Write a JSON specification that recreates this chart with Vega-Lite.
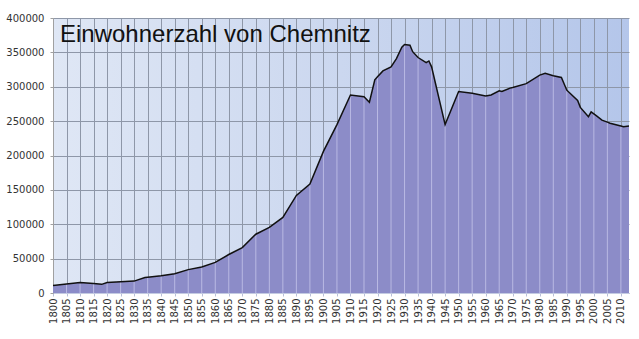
{
  "$schema": "https://vega.github.io/schema/vega-lite/v6.json",
  "width": 576,
  "height": 275,
  "autosize": "none",
  "padding": {"left": 53, "top": 18, "right": 10, "bottom": 46},
  "background": "white",
  "view": {
    "stroke": null,
    "fill": {"gradient": "linear", "x1": 0, "y1": 0, "x2": 1, "y2": 0,
      "stops": [{"offset": 0, "color": "#dfe7f5"}, {"offset": 0.5, "color": "#cbd7ef"}, {"offset": 1, "color": "#b4c6ea"}]}
  },
  "title": {
    "text": "Einwohnerzahl von Chemnitz",
    "anchor": "start", "frame": "group", "orient": "top",
    "baseline": "top", "offset": -34, "dx": 7,
    "font": "Liberation Sans", "fontSize": 24, "fontWeight": "normal", "color": "#111111"
  },
  "data": {"values": [
    {"year": 1800, "pop": 11000},
    {"year": 1805, "pop": 13000},
    {"year": 1810, "pop": 15300},
    {"year": 1815, "pop": 13800},
    {"year": 1818, "pop": 12600},
    {"year": 1820, "pop": 15300},
    {"year": 1825, "pop": 16200},
    {"year": 1830, "pop": 17300},
    {"year": 1834, "pop": 22500},
    {"year": 1835, "pop": 23000},
    {"year": 1840, "pop": 25000},
    {"year": 1845, "pop": 28000},
    {"year": 1850, "pop": 34000},
    {"year": 1855, "pop": 37800},
    {"year": 1860, "pop": 44500},
    {"year": 1865, "pop": 56000},
    {"year": 1870, "pop": 66000},
    {"year": 1875, "pop": 85500},
    {"year": 1880, "pop": 95500},
    {"year": 1885, "pop": 110000},
    {"year": 1890, "pop": 142000},
    {"year": 1895, "pop": 158500},
    {"year": 1900, "pop": 206000},
    {"year": 1905, "pop": 245000},
    {"year": 1910, "pop": 288000},
    {"year": 1915, "pop": 285500},
    {"year": 1917, "pop": 277500},
    {"year": 1919, "pop": 310000},
    {"year": 1920, "pop": 314500},
    {"year": 1922, "pop": 323000},
    {"year": 1925, "pop": 329000},
    {"year": 1927, "pop": 341000},
    {"year": 1929, "pop": 357500},
    {"year": 1930, "pop": 361500},
    {"year": 1932, "pop": 360500},
    {"year": 1933, "pop": 351000},
    {"year": 1935, "pop": 342500},
    {"year": 1938, "pop": 335000},
    {"year": 1939, "pop": 337500},
    {"year": 1940, "pop": 329000},
    {"year": 1945, "pop": 245000},
    {"year": 1950, "pop": 293000},
    {"year": 1955, "pop": 290500},
    {"year": 1960, "pop": 286500},
    {"year": 1962, "pop": 288000},
    {"year": 1965, "pop": 294000},
    {"year": 1966, "pop": 293000},
    {"year": 1969, "pop": 298000},
    {"year": 1970, "pop": 299000},
    {"year": 1975, "pop": 304500},
    {"year": 1980, "pop": 317000},
    {"year": 1982, "pop": 319500},
    {"year": 1985, "pop": 316000},
    {"year": 1988, "pop": 313500},
    {"year": 1990, "pop": 295000},
    {"year": 1994, "pop": 280000},
    {"year": 1995, "pop": 270000},
    {"year": 1998, "pop": 256500},
    {"year": 1999, "pop": 263500},
    {"year": 2000, "pop": 260500},
    {"year": 2001, "pop": 257500},
    {"year": 2003, "pop": 251500},
    {"year": 2005, "pop": 248500},
    {"year": 2006, "pop": 247000},
    {"year": 2010, "pop": 243000},
    {"year": 2011, "pop": 242000},
    {"year": 2013, "pop": 243000}
  ]},
  "encoding": {
    "x": {
      "field": "year", "type": "quantitative",
      "scale": {"domain": [1800, 2013], "nice": false, "zero": false},
      "axis": {
        "title": null,
        "values": [1800,1805,1810,1815,1820,1825,1830,1835,1840,1845,1850,1855,1860,1865,1870,1875,1880,1885,1890,1895,1900,1905,1910,1915,1920,1925,1930,1935,1940,1945,1950,1955,1960,1965,1970,1975,1980,1985,1990,1995,2000,2005,2010],
        "format": "d", "labelAngle": -90, "labelAlign": "right", "labelBaseline": "middle",
        "labelFont": "DejaVu Sans", "labelFontSize": 10, "labelColor": "#333333", "labelPadding": 2,
        "labelOverlap": false, "labelFlush": false,
        "grid": true, "gridColor": "#8e97a8", "gridWidth": 1,
        "tickSize": 3, "tickColor": "#b8bfd8", "domainColor": "#c4cbe2"
      }
    },
    "y": {
      "field": "pop", "type": "quantitative",
      "scale": {"domain": [0, 400000], "nice": false},
      "axis": {
        "title": null,
        "values": [0, 50000, 100000, 150000, 200000, 250000, 300000, 350000, 400000],
        "format": "d", "labelFont": "DejaVu Sans", "labelFontSize": 10, "labelColor": "#333333",
        "labelPadding": 6, "tickSize": 3, "tickColor": "#a0a0a0",
        "grid": true, "gridColor": "#8e97a8", "gridWidth": 1,
        "domainColor": "#a0a0a0", "labelFlush": false, "labelOverlap": false
      }
    }
  },
  "layer": [
    {
      "mark": {"type": "area", "color": "#8c8cc8", "opacity": 1}
    },
    {
      "transform": [{"filter": "datum.year % 5 == 0 && datum.year > 1800"}],
      "mark": {"type": "rule", "color": "#b9b9e3", "strokeWidth": 1},
      "encoding": {"y2": {"datum": 0}}
    },
    {
      "mark": {"type": "line", "color": "#111111", "strokeWidth": 1.5}
    }
  ]
}
